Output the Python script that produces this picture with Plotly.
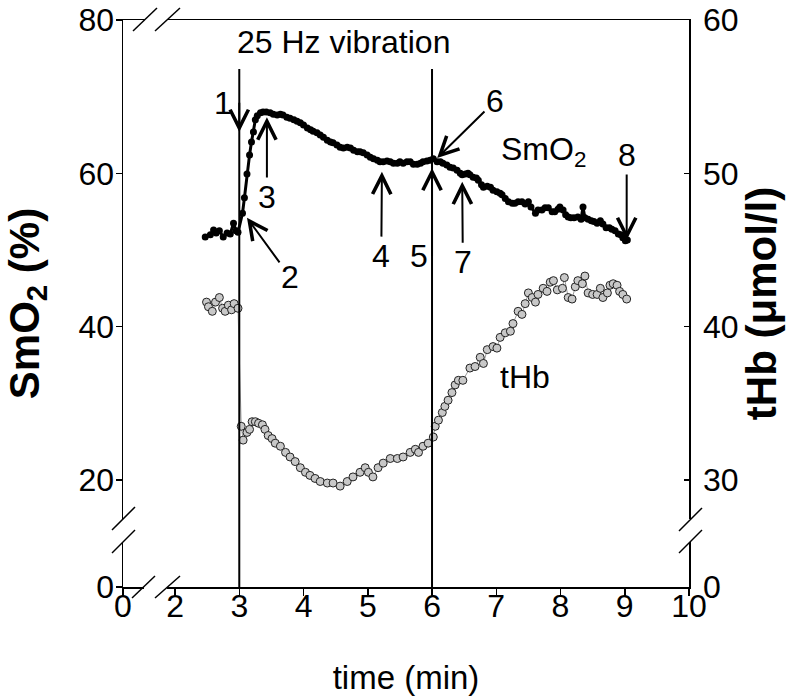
import plotly.graph_objects as go

# ---------------- data ----------------
smo2_t = [2.47, 2.55, 2.60, 2.64, 2.69, 2.75, 2.81, 2.86, 2.91, 2.95, 2.98,
          3.05, 3.08, 3.12, 3.16, 3.19, 3.22, 3.25, 3.28, 3.33, 3.37, 3.42,
          3.48, 3.53, 3.59, 3.64, 3.68, 3.74, 3.79, 3.85, 3.90, 3.95, 4.00,
          4.06, 4.11, 4.15, 4.21, 4.26, 4.31, 4.37, 4.42, 4.46, 4.52, 4.57,
          4.62, 4.68, 4.73, 4.78, 4.84, 4.88, 4.93, 4.99, 5.04, 5.09, 5.15,
          5.19, 5.24, 5.30, 5.35, 5.40, 5.46, 5.50, 5.55, 5.61, 5.66, 5.71,
          5.77, 5.82, 5.86, 5.92, 5.97, 6.02, 6.08, 6.13, 6.17, 6.23, 6.28,
          6.33, 6.39, 6.44, 6.47, 6.52, 6.56, 6.59, 6.64, 6.69, 6.72, 6.77,
          6.80, 6.86, 6.91, 6.95, 7.01, 7.06, 7.09, 7.14, 7.19, 7.25, 7.29,
          7.34, 7.40, 7.45, 7.50, 7.54, 7.61, 7.65, 7.71, 7.76, 7.81, 7.87,
          7.91, 7.96, 7.99, 8.04, 8.08, 8.12, 8.16, 8.21, 8.27, 8.32, 8.35,
          8.38, 8.43, 8.48, 8.52, 8.57, 8.62, 8.66, 8.71, 8.76, 8.80, 8.85,
          8.90, 8.94, 8.97, 9.01, 9.04]
smo2_v = [51.7, 52.0, 52.6, 52.2, 52.5, 51.7, 52.2, 52.1, 53.5, 52.5, 52.3,
          54.8, 56.8, 59.9, 62.4, 64.1, 65.4, 67.0, 67.5, 67.9, 68.0, 68.0,
          67.9, 67.7, 67.6, 67.7, 67.6, 67.3, 67.2, 67.0, 66.8, 66.6, 66.3,
          65.9, 65.7, 65.5, 65.3, 65.0, 64.7, 64.3, 64.1, 64.0, 63.7, 63.4,
          63.3, 63.4, 63.3, 63.0, 62.8, 62.8, 62.7, 62.4, 62.1, 61.9, 61.7,
          61.5, 61.5, 61.6, 61.5, 61.3, 61.3, 61.5, 61.3, 61.5, 61.5, 61.2,
          61.2, 61.3, 61.5, 61.6, 61.7, 61.9, 61.5, 61.5, 61.3, 61.1, 60.8,
          60.7, 60.4, 60.0, 59.8, 59.9, 60.0, 59.8, 59.5, 59.4, 59.1, 58.5,
          58.2, 58.3, 58.2, 57.8, 57.6, 57.4, 57.2, 56.7, 56.3, 56.1, 56.1,
          56.3, 56.3, 56.0, 56.3, 55.6, 54.8, 55.2, 55.2, 55.5, 55.5, 55.0,
          55.0, 55.3, 55.6, 55.2, 54.6, 54.3, 54.2, 54.2, 54.3, 54.0, 55.6,
          54.2, 54.0, 53.8, 53.7, 53.5, 53.8, 53.4, 52.9, 52.9, 52.7, 52.5,
          52.1, 52.0, 51.6, 51.2, 51.3]

thb_t = [2.49, 2.52, 2.58, 2.63, 2.69, 2.74, 2.78, 2.83, 2.88, 2.92, 2.98,
         3.03, 3.06, 3.12, 3.16, 3.20, 3.25, 3.30, 3.36, 3.40, 3.45, 3.51,
         3.56, 3.64, 3.72, 3.79, 3.87, 3.95, 4.03, 4.10, 4.18, 4.26, 4.37,
         4.46, 4.57, 4.68, 4.77, 4.88, 4.96, 5.01, 5.08, 5.16, 5.24, 5.35,
         5.46, 5.55, 5.66, 5.74, 5.79, 5.86, 5.94, 6.02, 6.05, 6.10, 6.16,
         6.20, 6.25, 6.31, 6.36, 6.41, 6.48, 6.59, 6.67, 6.75, 6.80, 6.86,
         6.95, 7.01, 7.06, 7.14, 7.22, 7.26, 7.34, 7.40, 7.45, 7.50, 7.56,
         7.61, 7.65, 7.73, 7.79, 7.84, 7.89, 7.95, 8.03, 8.06, 8.12, 8.18,
         8.23, 8.27, 8.34, 8.38, 8.43, 8.50, 8.57, 8.62, 8.66, 8.73, 8.77,
         8.82, 8.88, 8.92, 8.97, 9.03]
thb_v = [41.6, 41.3, 41.0, 41.6, 41.9, 41.2, 41.0, 41.4, 41.1, 41.5, 41.2,
         33.5, 32.6, 33.1, 33.3, 33.8, 33.8, 33.7, 33.6, 33.3, 32.9, 32.7,
         32.4, 32.2, 31.8, 31.5, 31.2, 30.8, 30.5, 30.3, 30.1, 29.9, 29.8,
         29.8, 29.6, 29.9, 30.2, 30.5, 30.8, 30.5, 30.2, 30.8, 31.1, 31.4,
         31.4, 31.5, 31.8, 32.0, 31.8, 32.2, 32.4, 32.8, 33.5, 33.9, 34.4,
         34.8, 35.2, 35.7, 36.2, 36.5, 36.5, 37.3, 37.4, 38.0, 37.6, 38.5,
         38.7, 38.6, 39.3, 39.6, 39.7, 40.2, 41.0, 40.8, 41.5, 42.2, 41.9,
         41.6, 42.1, 42.5, 42.3, 42.9, 43.0, 42.4, 42.5, 43.2, 41.9, 41.8,
         42.6, 43.0, 42.8, 43.3, 42.2, 42.1, 42.1, 42.5, 41.9, 42.2, 42.7,
         42.8, 42.7, 42.3, 42.1, 41.8]

# broken axes: the "0" tick sits at the compressed origin of each axis
x_origin = 1.19
y_origin = 6.04
y2_origin = 23.02
x_tickvals = [x_origin, 2, 3, 4, 5, 6, 7, 8, 9, 10]
x_ticktext = ["0", "2", "3", "4", "5", "6", "7", "8", "9", "10"]
y_tickvals = [y_origin, 20, 40, 60, 80]
y_ticktext = ["0", "20", "40", "60", "80"]
y2_tickvals = [y2_origin, 30, 40, 50, 60]
y2_ticktext = ["0", "30", "40", "50", "60"]

vibration_times = [3, 6]

# arrows: label text sits at (label_t, label_y); arrow points to the tip
arrow_labels = ["1", "2", "3", "4", "5", "6", "7", "8"]
arrow_tip_t = [3.0, 3.12, 3.43, 5.22, 6.0, 6.08, 6.47, 9.03]
arrow_tip_y = [65.4, 54.2, 67.3, 60.2, 60.7, 62.0, 58.9, 51.3]
label_t = [3.0, 3.79, 3.43, 5.21, 6.0, 6.98, 6.48, 9.03]
label_y = [69.2, 46.5, 56.9, 49.2, 49.2, 69.4, 48.4, 62.4]
label_side = ["right", "center", "center", "center", "right", "center",
              "center", "center"]
label_pad = [6, 1, 1, 1, 3, 1, 1, 1]

FONT = "Liberation Sans, Arial, sans-serif"
FS = 32
TFS = 42

W, H = 796, 696
# plot area in page pixels
L, R, T, B = 123, 689, 20, 587


def pxx(x):
    return (x - L) / (R - L)


def pxy(y):
    return (B - y) / (B - T)


fig = go.Figure()
fig.add_trace(go.Scatter(
    x=thb_t, y=thb_v, yaxis="y2", mode="lines+markers",
    line=dict(color="#9a9a9a", width=1),
    marker=dict(size=8, color="#c8c8c8", line=dict(color="#222222", width=1)),
    showlegend=False, name="tHb"))
fig.add_trace(go.Scatter(
    x=smo2_t, y=smo2_v, mode="lines+markers",
    line=dict(color="black", width=3),
    marker=dict(size=7, color="black"),
    showlegend=False, name="SmO2"))

shapes = []
for vt in vibration_times:
    shapes.append(dict(type="line", xref="x", yref="paper", x0=vt, x1=vt,
                       y0=0, y1=pxy(69), line=dict(color="black", width=2)))

# axis break gaps (white) and slash marks
gaps = [(145, 17, 168, 23), (144, 584, 167, 590),
        (120, 519, 126, 542), (686, 519, 692, 542)]
for x0, y0, x1, y1 in gaps:
    shapes.append(dict(type="rect", xref="paper", yref="paper",
                       x0=pxx(x0), x1=pxx(x1), y0=pxy(y0), y1=pxy(y1),
                       fillcolor="white", line=dict(width=0), layer="above"))
slashes = [(133, 31, 157, 8), (155, 31, 180, 8),
           (132, 598, 155, 576), (155, 598, 180, 576),
           (112, 530, 135, 507), (112, 553, 135, 530),
           (679, 531, 702, 508), (679, 553, 702, 530)]
for x0, y0, x1, y1 in slashes:
    shapes.append(dict(type="line", xref="paper", yref="paper",
                       x0=pxx(x0), x1=pxx(x1), y0=pxy(y0), y1=pxy(y1),
                       line=dict(color="black", width=1.5), layer="above"))

annotations = []
for i in range(len(arrow_labels)):
    annotations.append(dict(
        x=arrow_tip_t[i], y=arrow_tip_y[i], xref="x", yref="y",
        ax=label_t[i], ay=label_y[i], axref="x", ayref="y",
        text=arrow_labels[i], xanchor=label_side[i], borderpad=label_pad[i],
        showarrow=True, arrowhead=5, arrowsize=1.8, arrowwidth=2,
        arrowcolor="black", standoff=0,
        font=dict(family=FONT, size=FS, color="black")))

annotations.append(dict(x=4.62, y=77.1, xref="x", yref="y",
                        text="25 Hz vibration", showarrow=False,
                        font=dict(family=FONT, size=FS, color="black")))
annotations.append(dict(x=7.73, y=62.8, xref="x", yref="y",
                        text="SmO<sub>2</sub>", showarrow=False,
                        font=dict(family=FONT, size=FS, color="black")))
annotations.append(dict(x=7.45, y=33.4, xref="x", yref="y",
                        text="tHb", showarrow=False,
                        font=dict(family=FONT, size=FS, color="black")))

axis_common = dict(showgrid=False, zeroline=False, showline=True,
                   linecolor="black", linewidth=1.5, automargin=False,
                   ticklabeloverflow="allow",
                   tickfont=dict(family=FONT, size=FS, color="black"),
                   tickcolor="black", tickwidth=1.5, tickmode="array")

fig.update_layout(
    width=W, height=H,
    margin=dict(l=L, r=W - R, t=T, b=H - B),
    paper_bgcolor="white", plot_bgcolor="white",
    font=dict(family=FONT, size=FS, color="black"),
    xaxis=dict(range=[x_origin, 10], tickvals=x_tickvals, ticktext=x_ticktext,
               ticks="outside", ticklen=7, mirror=True, ticklabelstandoff=-17,
               title=dict(text="time (min)", standoff=50,
                          font=dict(family=FONT, size=33)),
               **axis_common),
    yaxis=dict(range=[y_origin, 80], tickvals=y_tickvals, ticktext=y_ticktext,
               ticks="outside", ticklen=6, ticklabelstandoff=-5,
               title=dict(text="<b>SmO<sub>2</sub> (%)</b>", standoff=26,
                          font=dict(family=FONT, size=TFS)),
               **axis_common),
    yaxis2=dict(range=[y2_origin, 60], tickvals=y2_tickvals,
                ticktext=y2_ticktext, overlaying="y", side="right",
                ticks="inside", ticklen=5, ticklabelstandoff=6,
                title=dict(text="<b>tHb (\u03bcmol/l)</b>", standoff=4,
                           font=dict(family=FONT, size=TFS)),
                **axis_common),
    shapes=shapes, annotations=annotations,
)

fig.write_html("out.html",
               config={"displayModeBar": False, "staticPlot": True},
               post_script="document.body.style.margin='0';")
